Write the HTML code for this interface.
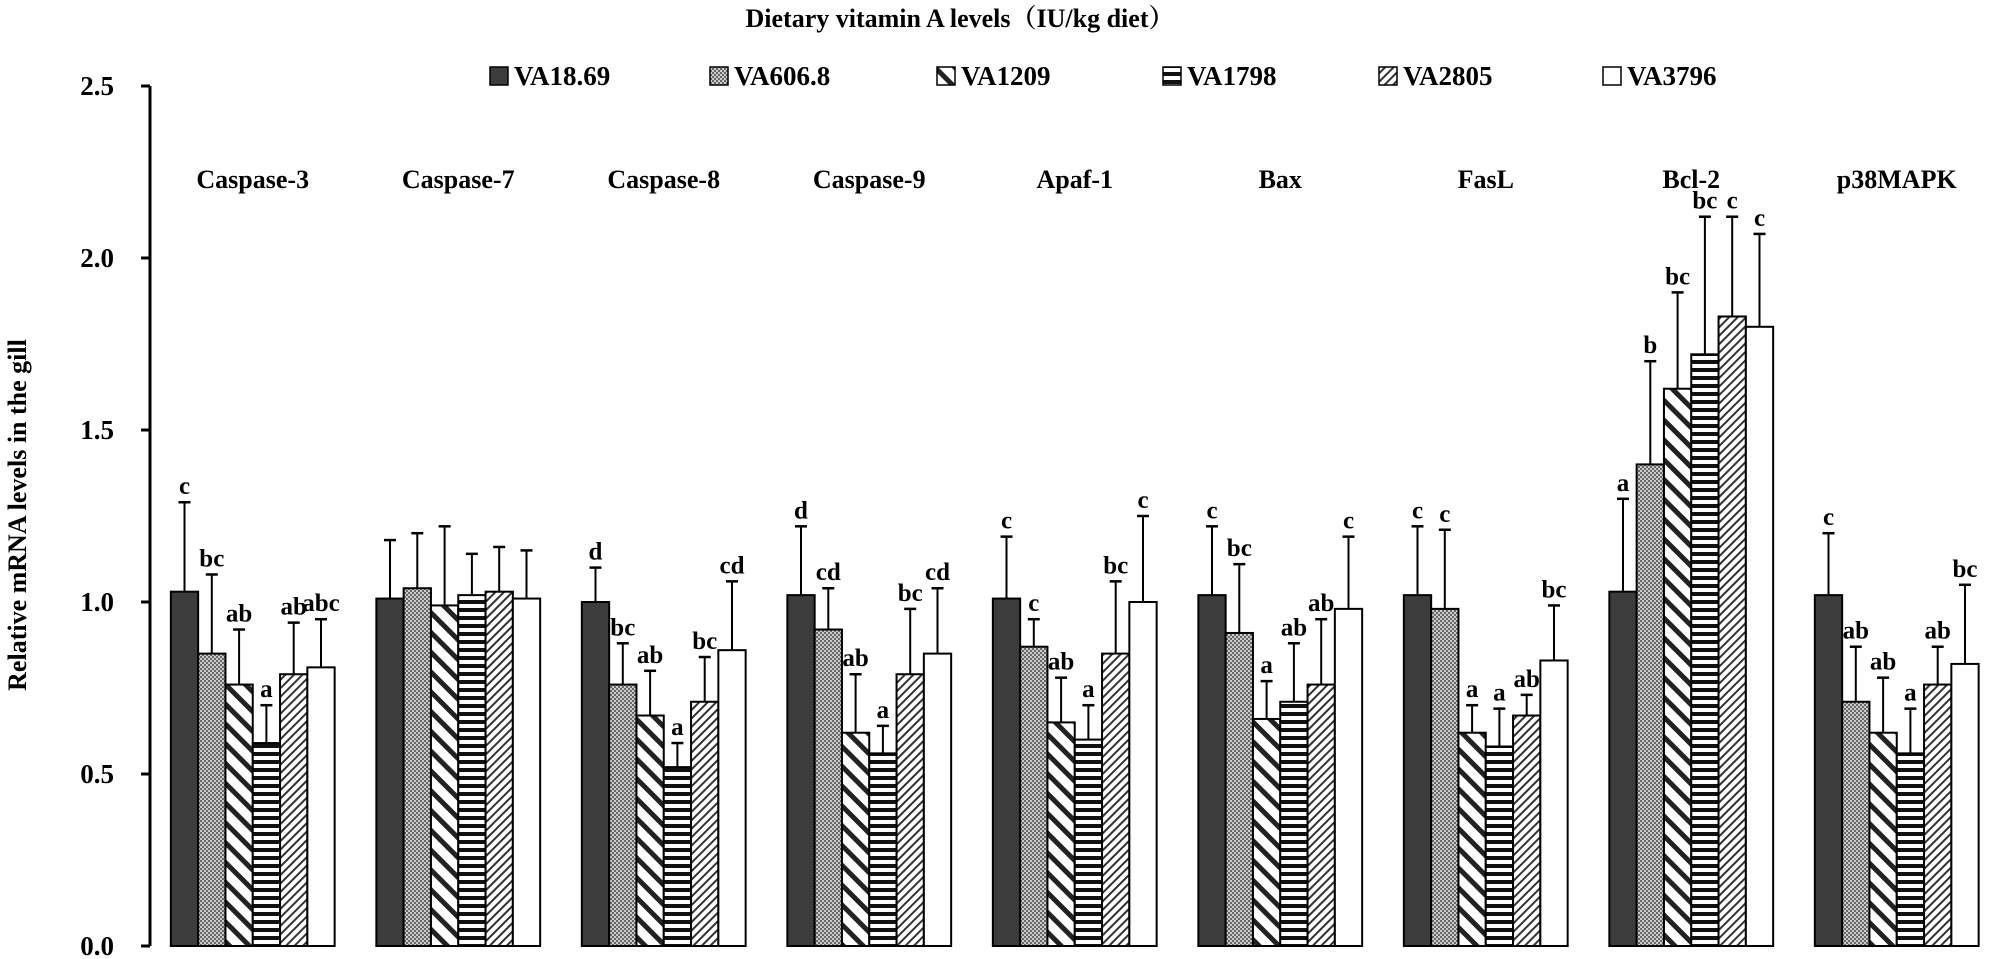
<!DOCTYPE html>
<html><head><meta charset="utf-8"><style>
html,body{margin:0;padding:0;background:#fff;}
svg{display:block;font-family:"Liberation Serif","Noto Serif CJK SC",serif;font-weight:bold;}
</style></head><body>
<svg id="chart" width="2008" height="959" viewBox="0 0 2008 959">
<defs>
<pattern id="p0" width="4" height="4" patternUnits="userSpaceOnUse"><rect width="4" height="4" fill="#3c3c3c"/></pattern>
<pattern id="p1" width="4" height="4" patternUnits="userSpaceOnUse"><rect width="4" height="4" fill="#ccc"/><rect width="2" height="2" fill="#666"/><rect x="2" y="2" width="2" height="2" fill="#666"/></pattern>
<pattern id="p2" width="14" height="14" patternUnits="userSpaceOnUse" patternTransform="rotate(45)"><rect width="14" height="14" fill="#fff"/><rect width="14" height="5" fill="#222"/></pattern>
<pattern id="p3" width="8" height="8" patternUnits="userSpaceOnUse"><rect width="8" height="8" fill="#fff"/><rect width="8" height="4" fill="#111"/></pattern>
<pattern id="p4" width="6" height="6" patternUnits="userSpaceOnUse" patternTransform="rotate(-45)"><rect width="6" height="6" fill="#fff"/><rect width="6" height="2" fill="#333"/></pattern>
<pattern id="p5" width="4" height="4" patternUnits="userSpaceOnUse"><rect width="4" height="4" fill="#fff"/></pattern>
</defs>
<g id="plot"></g>
</svg>
<script>
const categories=["Caspase-3","Caspase-7","Caspase-8","Caspase-9","Apaf-1","Bax","FasL","Bcl-2","p38MAPK"];
const seriesNames=["VA18.69","VA606.8","VA1209","VA1798","VA2805","VA3796"];
const means=[
[1.03,0.85,0.76,0.59,0.79,0.81],
[1.01,1.04,0.99,1.02,1.03,1.01],
[1.00,0.76,0.67,0.52,0.71,0.86],
[1.02,0.92,0.62,0.56,0.79,0.85],
[1.01,0.87,0.65,0.60,0.85,1.00],
[1.02,0.91,0.66,0.71,0.76,0.98],
[1.02,0.98,0.62,0.58,0.67,0.83],
[1.03,1.40,1.62,1.72,1.83,1.80],
[1.02,0.71,0.62,0.56,0.76,0.82]];
const errTops=[
[1.29,1.08,0.92,0.70,0.94,0.95],
[1.18,1.20,1.22,1.14,1.16,1.15],
[1.10,0.88,0.80,0.59,0.84,1.06],
[1.22,1.04,0.79,0.64,0.98,1.04],
[1.19,0.95,0.78,0.70,1.06,1.25],
[1.22,1.11,0.77,0.88,0.95,1.19],
[1.22,1.21,0.70,0.69,0.73,0.99],
[1.30,1.70,1.90,2.12,2.12,2.07],
[1.20,0.87,0.78,0.69,0.87,1.05]];
const letters=[
["c","bc","ab","a","ab","abc"],
["","","","","",""],
["d","bc","ab","a","bc","cd"],
["d","cd","ab","a","bc","cd"],
["c","c","ab","a","bc","c"],
["c","bc","a","ab","ab","c"],
["c","c","a","a","ab","bc"],
["a","b","bc","bc","c","c"],
["c","ab","ab","a","ab","bc"]];
const yTicks=[0,0.5,1.0,1.5,2.0,2.5];
const NS="http://www.w3.org/2000/svg";
const g=document.getElementById("plot");
const X0=150,GW=205.5,BW=27.3,Y0=946,YS=344;
const y=v=>Y0-v*YS;
const gx=i=>X0+i*GW+GW/2;
function mk(t,a,txt){const e=document.createElementNS(NS,t);for(const k in a)e.setAttribute(k,a[k]);if(txt!==undefined)e.textContent=txt;g.appendChild(e);return e;}
let e;
e=mk("text",{x:960,y:27,"text-anchor":"middle","font-size":26},"Dietary vitamin A levels（IU/kg diet）");


const legX=[490,710,937,1163,1379,1603];
seriesNames.forEach((n,s)=>{
 e=mk("rect",{x:legX[s],y:67,width:18,height:18,fill:"url(#p"+s+")",stroke:"#000","stroke-width":1.5});
 
 
 e=mk("text",{x:legX[s]+24,y:85,"font-size":27},n);
 
 
});
e=mk("line",{x1:X0,y1:Y0,x2:X0,y2:y(2.5),stroke:"#000","stroke-width":3});


yTicks.forEach(t=>{
 e=mk("line",{x1:X0-9,y1:y(t),x2:X0,y2:y(t),stroke:"#000","stroke-width":3});
 
 
 e=mk("text",{x:114,y:y(t)+9,"text-anchor":"end","font-size":27},t.toFixed(1));
 
 
});
e=mk("text",{x:0,y:0,"text-anchor":"middle","font-size":26,transform:"translate(26,515) rotate(-90)"},"Relative mRNA levels in the gill");


categories.forEach((c,i)=>{
 e=mk("text",{x:gx(i),y:188,"text-anchor":"middle","font-size":26},c);
 
 
 means[i].forEach((v,s)=>{
  const bx=gx(i)-3*BW+s*BW;const cx=bx+BW/2;
  e=mk("line",{x1:cx,y1:y(v),x2:cx,y2:y(errTops[i][s]),stroke:"#000","stroke-width":2});
  
  
  e=mk("line",{x1:cx-6,y1:y(errTops[i][s]),x2:cx+6,y2:y(errTops[i][s]),stroke:"#000","stroke-width":2.5});
  
  
  e=mk("rect",{x:bx,y:y(v),width:BW,height:Y0-y(v),fill:"url(#p"+s+")",stroke:"#000","stroke-width":2});
  
  
  if(letters[i][s]){
   e=mk("text",{x:cx,y:y(errTops[i][s])-8,"text-anchor":"middle","font-size":25},letters[i][s]);
   
   
  }
 });
});
</script>
</body></html>
